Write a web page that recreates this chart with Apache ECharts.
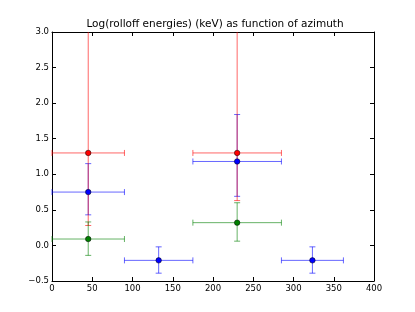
<!DOCTYPE html>
<html>
<head>
<meta charset="utf-8">
<script src="https://cdn.jsdelivr.net/npm/echarts@6/dist/echarts.min.js"></script>
<style>html,body{margin:0;padding:0;background:#fff}#c{width:415px;height:312px}</style>
</head>
<body>
<div id="c"></div>
<script>
const titleText = "Log(rolloff energies) (keV) as function of azimuth";
const xTicks = [0, 50, 100, 150, 200, 250, 300, 350, 400];
const yTicks = [-0.5, 0.0, 0.5, 1.0, 1.5, 2.0, 2.5, 3.0];

const blueX     = [45, 132.5, 230, 323.5];
const blueY     = [0.75, -0.21, 1.18, -0.21];
const blueXErr  = [45, 42.5, 55, 38.5];
const blueYLow  = [0.43, -0.39, 0.69, -0.39];
const blueYHigh = [1.15, -0.02, 1.84, -0.02];

const redX     = [45, 230];
const redY     = [1.30, 1.30];
const redXErr  = [45, 55];
const redYLow  = [0.28, 0.63];
const redYHigh = [3.6, 3.6];

const greenX     = [45, 230];
const greenY     = [0.09, 0.32];
const greenXErr  = [45, 55];
const greenYLow  = [-0.14, 0.06];
const greenYHigh = [0.33, 0.60];

function rows(x, y, xe, lo, hi) {
  return x.map((v, i) => [v, y[i], xe[i], lo[i], hi[i]]);
}

const FONT = "DejaVu Sans";
const CAP = 3;

function makeRender(color) {
  return function (params, api) {
    const cs = params.coordSys;
    const x0 = cs.x, x1 = cs.x + cs.width, y0 = cs.y, y1 = cs.y + cs.height;
    const cx = api.value(0), cy = api.value(1), xe = api.value(2), lo = api.value(3), hi = api.value(4);
    const pL = api.coord([cx - xe, cy]);
    const pR = api.coord([cx + xe, cy]);
    const pT = api.coord([cx, hi]);
    const pB = api.coord([cx, lo]);
    const cl = (v, a, b) => Math.max(a, Math.min(b, v));
    const style = { stroke: color, lineWidth: 1, fill: null };
    const children = [];
    const line = (ax, ay, bx, by) => children.push({ type: 'line', shape: { x1: ax, y1: ay, x2: bx, y2: by }, style: style });
    line(cl(pL[0], x0, x1), pL[1], cl(pR[0], x0, x1), pR[1]);
    if (pL[0] >= x0) line(pL[0], pL[1] - CAP, pL[0], pL[1] + CAP);
    if (pR[0] <= x1) line(pR[0], pR[1] - CAP, pR[0], pR[1] + CAP);
    line(pT[0], cl(pT[1], y0, y1), pB[0], cl(pB[1], y0, y1));
    if (pT[1] >= y0) line(pT[0] - CAP, pT[1], pT[0] + CAP, pT[1]);
    if (pB[1] <= y1) line(pB[0] - CAP, pB[1], pB[0] + CAP, pB[1]);
    return { type: 'group', children: children };
  };
}

function errSeries(data, color, z) {
  return {
    type: 'custom', data: data, z: z, silent: true,
    encode: { x: 0, y: 1 },
    renderItem: makeRender(color)
  };
}
function ptSeries(x, y, color) {
  return {
    type: 'scatter', data: x.map((v, i) => [v, y[i]]), z: 10,
    symbol: 'circle', symbolSize: 5.5, silent: true,
    itemStyle: { color: color, borderColor: '#000', borderWidth: 0.5, opacity: 1 }
  };
}

const fmtY = v => v.toFixed(1).replace('-', '\u2212');
const axisCommon = {
  type: 'value',
  axisLine: { show: true, onZero: false, lineStyle: { color: '#000', width: 1 } },
  axisTick: { show: true, inside: true, length: 4, lineStyle: { color: '#000' } },
  splitLine: { show: false }
};

const chart = echarts.init(document.getElementById('c'), null, { renderer: 'canvas' });
chart.setOption({
  animation: false,
  backgroundColor: '#fff',
  title: {
    text: titleText, left: 210, textAlign: 'center', top: 14,
    textStyle: { fontFamily: FONT, fontSize: 10.5, fontWeight: 'normal', color: '#000' }
  },
  grid: { left: 52, right: 41, top: 32, bottom: 31, containLabel: false },
  xAxis: [
    Object.assign({}, axisCommon, {
      min: xTicks[0], max: xTicks[xTicks.length - 1], interval: xTicks[1] - xTicks[0], position: 'bottom',
      axisLabel: { show: true, fontFamily: FONT, fontSize: 8.5, color: '#000', margin: 3, showMinLabel: true, showMaxLabel: true }
    }),
    Object.assign({}, axisCommon, {
      min: xTicks[0], max: xTicks[xTicks.length - 1], interval: xTicks[1] - xTicks[0], position: 'top',
      axisLabel: { show: false }
    })
  ],
  yAxis: [
    Object.assign({}, axisCommon, {
      min: yTicks[0], max: yTicks[yTicks.length - 1], interval: 0.5, position: 'left',
      axisLabel: { show: true, fontFamily: FONT, fontSize: 8.5, color: '#000', margin: 3, formatter: fmtY, showMinLabel: true, showMaxLabel: true }
    }),
    Object.assign({}, axisCommon, {
      min: yTicks[0], max: yTicks[yTicks.length - 1], interval: 0.5, position: 'right',
      axisLabel: { show: false }
    })
  ],
  series: [
    errSeries(rows(blueX, blueY, blueXErr, blueYLow, blueYHigh), 'rgba(0,0,255,0.6)', 2),
    errSeries(rows(redX, redY, redXErr, redYLow, redYHigh), 'rgba(255,0,0,0.6)', 3),
    errSeries(rows(greenX, greenY, greenXErr, greenYLow, greenYHigh), 'rgba(0,128,0,0.6)', 4),
    ptSeries(blueX, blueY, '#0000ff'),
    ptSeries(redX, redY, '#ff0000'),
    ptSeries(greenX, greenY, '#008000')
  ]
});
</script>
</body>
</html>
